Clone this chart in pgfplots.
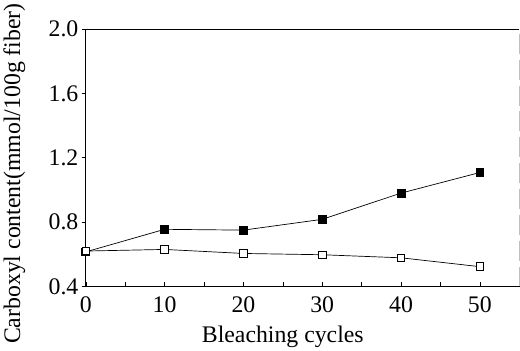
\documentclass[border=0pt]{standalone}
\usepackage{fontspec}
\setmainfont{Liberation Serif}
\usepackage{pgfplots}
\pgfplotsset{compat=1.18}
\begin{document}
\begin{tikzpicture}[x=1bp,y=1bp]
\begin{axis}[
  scale only axis,
  width=436bp, height=259bp,
  xmin=0, xmax=55, ymin=0.4, ymax=2.0,
  xtick={0,10,20,30,40,50},
  minor xtick={5,15,25,35,45},
  ytick={0.4,0.8,1.2,1.6,2.0},
  yticklabel style={/pgf/number format/.cd,fixed,fixed zerofill,precision=1},
  xticklabel style={yshift=-3bp},
  /pgf/number format/assume math mode=true,
  tick pos=left,
  tick align=outside,
  major tick length=4bp, minor tick length=4bp,
  x tick style={yshift=4bp},
  tick style={black, line width=0.6pt},
  axis line style={line width=0.7pt},
  font=\fontsize{24}{26}\selectfont,
  xlabel={Bleaching cycles},
  ylabel={Carboxyl content(mmol/100g fiber)},
  xlabel style={at={(axis cs:25,0.4)}, anchor=base, yshift=-56bp},
  ylabel style={at={(rel axis cs:0,0.5)}, anchor=center, yshift=72bp, xshift=-16bp},
  clip=false,
]
\addplot[black, line width=0.7pt, mark=square*, mark size=4bp, mark options={solid}] coordinates {
  (0,0.615) (10,0.755) (20,0.750) (30,0.817) (40,0.980) (50,1.108)};
\addplot[black, line width=0.7pt, mark=square*, mark size=3.8bp, mark options={fill=white, line width=0.8pt}] coordinates {
  (0,0.620) (10,0.630) (20,0.605) (30,0.597) (40,0.578) (50,0.523)};
\draw[white, line width=1.5pt] (rel axis cs:1,0) -- (rel axis cs:1,1);
\draw[gray!50, line width=0.7pt, dash pattern=on 20bp off 6bp] (rel axis cs:1,0) -- (rel axis cs:1,1);
\end{axis}
\end{tikzpicture}
\end{document}
